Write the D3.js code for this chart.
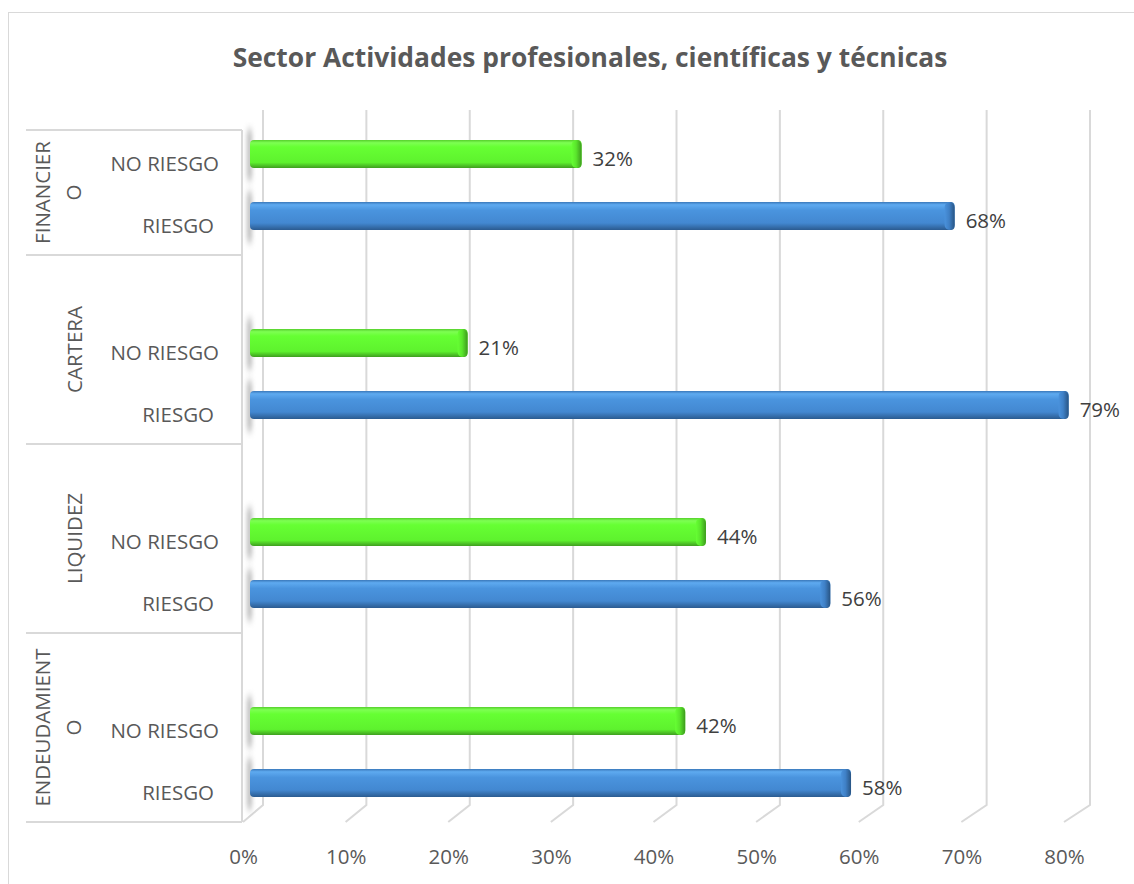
<!DOCTYPE html>
<html>
<head>
<meta charset="utf-8">
<script src="https://cdn.jsdelivr.net/npm/d3@7"></script>
<style>
  html, body { margin: 0; padding: 0; background: #fff; }
  text { font-family: "Open Sans", "Noto Sans", sans-serif; }
</style>
</head>
<body>
<div id="chart"></div>
<script>
const FRAME_WIDTH = 1134;
const FRAME_HEIGHT = 884;

// data
const TITLE = "Sector Actividades profesionales, científicas y técnicas";
const GROUPS = ["FINANCIERO", "CARTERA", "LIQUIDEZ", "ENDEUDAMIENTO"];
const GROUP_LINES = [["FINANCIER", "O"], ["CARTERA"], ["LIQUIDEZ"], ["ENDEUDAMIENT", "O"]];
const SUBS = ["NO RIESGO", "RIESGO"];
const NO_RIESGO = [0.32, 0.21, 0.44, 0.42];
const RIESGO = [0.68, 0.79, 0.56, 0.58];
const TICKS = [0, 0.1, 0.2, 0.3, 0.4, 0.5, 0.6, 0.7, 0.8];

const TEXT_COLOR = "#595959";
const GRID_COLOR = "#d9d9d9";
const LABEL_SIZE = "20.5px";

const BAR_H = 28;
const GRID_TOP = 110;
const FLOOR_BACK = 805;
const FLOOR_FRONT = 822;
const TABLE_TOP = 130;
const TABLE_LEFT = 26;
const TABLE_RIGHT = 242;

// bars sit in the middle of the 3d depth, grid on the back wall, labels on the front edge
const X_BAR = d3.scaleLinear().domain([0, 0.8]).range([250, 1079]);
const X_BACK = d3.scaleLinear().domain([0, 0.8]).range([263, 1090]);
const X_FRONT = d3.scaleLinear().domain([0, 0.8]).range([243, 1064]);

const Y_GROUP = d3.scaleBand().domain(GROUPS).range([66, FLOOR_FRONT]);
const Y_SUB = d3.scalePoint().domain(SUBS).range([88, 150]);

const svg = d3.select("#chart").append("svg")
    .attr("width", FRAME_WIDTH)
    .attr("height", FRAME_HEIGHT);

const defs = svg.append("defs");

function vGrad(id, stops) {
  const g = defs.append("linearGradient").attr("id", id)
      .attr("x1", 0).attr("y1", 0).attr("x2", 0).attr("y2", 1);
  stops.forEach(s => g.append("stop").attr("offset", s[0]).attr("stop-color", s[1]));
}
function hGrad(id, stops) {
  const g = defs.append("linearGradient").attr("id", id)
      .attr("x1", 0).attr("y1", 0).attr("x2", 1).attr("y2", 0);
  stops.forEach(s => g.append("stop").attr("offset", s[0]).attr("stop-color", s[1]));
}

vGrad("green", [["0%", "#56cf2c"], ["10%", "#7dff52"], ["25%", "#66ff33"], ["80%", "#5ef22e"], ["100%", "#3f9e1f"]]);
vGrad("blue", [["0%", "#3a78ba"], ["10%", "#5eaaf0"], ["30%", "#4a94de"], ["75%", "#4388d1"], ["100%", "#2b5b90"]]);
hGrad("greenCap", [["0%", "#66ff33"], ["45%", "#5ae52c"], ["100%", "#3d9a1d"]]);
hGrad("blueCap", [["0%", "#4a92dc"], ["45%", "#3f80c6"], ["100%", "#285483"]]);

defs.append("filter").attr("id", "blur")
    .attr("x", "-300%").attr("y", "-50%").attr("width", "700%").attr("height", "200%")
  .append("feGaussianBlur").attr("stdDeviation", "2.2 4");

// chart border
svg.append("rect")
    .attr("x", 8.5).attr("y", 12.5)
    .attr("width", FRAME_WIDTH + 20).attr("height", FRAME_HEIGHT + 20)
    .attr("fill", "none").attr("stroke", GRID_COLOR);

// title
svg.append("text")
    .attr("x", 590).attr("y", 57)
    .attr("text-anchor", "middle").attr("dominant-baseline", "central")
    .attr("font-size", "26.4px").attr("font-weight", "bold")
    .attr("fill", TEXT_COLOR)
    .text(TITLE);

// gridlines: back wall vertical, then down the floor to the front edge
svg.append("g").selectAll("path")
    .data(TICKS)
    .enter()
    .append("path")
      .attr("d", d => "M" + X_BACK(d) + "," + GRID_TOP + "V" + FLOOR_BACK + "L" + X_FRONT(d) + "," + FLOOR_FRONT)
      .attr("fill", "none")
      .attr("stroke", GRID_COLOR)
      .attr("stroke-width", 2);

// category table
const table = svg.append("g").attr("stroke", GRID_COLOR).attr("stroke-width", 2);
table.append("line")
    .attr("x1", TABLE_RIGHT).attr("x2", TABLE_RIGHT)
    .attr("y1", TABLE_TOP).attr("y2", FLOOR_FRONT);
const bounds = [TABLE_TOP].concat(GROUPS.map(g => Y_GROUP(g) + Y_GROUP.bandwidth()));
table.selectAll(".hl")
    .data(bounds)
    .enter()
    .append("line")
      .attr("x1", TABLE_LEFT).attr("x2", TABLE_RIGHT)
      .attr("y1", d => d).attr("y2", d => d);

// group labels (rotated, wrapped)
GROUPS.forEach((g, i) => {
  const top = Math.max(Y_GROUP(g), TABLE_TOP);
  const cy = (top + Y_GROUP(g) + Y_GROUP.bandwidth()) / 2;
  const lines = GROUP_LINES[i];
  const xs = lines.length === 1 ? [74] : [42, 73];
  lines.forEach((ln, j) => {
    svg.append("text")
        .attr("transform", "translate(" + xs[j] + "," + cy + ") rotate(-90)")
        .attr("text-anchor", "middle").attr("dominant-baseline", "central")
        .attr("font-size", LABEL_SIZE).attr("fill", TEXT_COLOR)
        .text(ln);
  });
});

// bar rows
const rows = [];
GROUPS.forEach((g, i) => {
  rows.push({group: g, sub: "NO RIESGO", value: NO_RIESGO[i], fill: "green"});
  rows.push({group: g, sub: "RIESGO", value: RIESGO[i], fill: "blue"});
});
const yc = d => Y_GROUP(d.group) + Y_SUB(d.sub);

// sub labels
svg.append("g").selectAll("text")
    .data(rows)
    .enter()
    .append("text")
      .attr("x", d => d.sub === "NO RIESGO" ? 219 : 214)
      .attr("y", d => yc(d) + 9)
      .attr("text-anchor", "end").attr("dominant-baseline", "central")
      .attr("font-size", LABEL_SIZE).attr("fill", TEXT_COLOR)
      .text(d => d.sub);

// soft shadow where each bar meets the wall
svg.append("g").selectAll("rect")
    .data(rows)
    .enter()
    .append("rect")
      .attr("x", X_BAR(0) - 3).attr("width", 5)
      .attr("y", d => yc(d) - BAR_H / 2 - 10)
      .attr("height", BAR_H + 22)
      .attr("fill", "#7a7a7a").attr("opacity", 0.5)
      .attr("filter", "url(#blur)");

// bars
const bars = svg.append("g").selectAll("g")
    .data(rows)
    .enter()
    .append("g");

bars.append("rect")
    .attr("x", X_BAR(0))
    .attr("y", d => yc(d) - BAR_H / 2)
    .attr("width", d => X_BAR(d.value) - X_BAR(0))
    .attr("height", BAR_H)
    .attr("rx", 4)
    .attr("fill", d => "url(#" + d.fill + ")");

bars.append("rect")
    .attr("x", d => X_BAR(d.value) - 10)
    .attr("y", d => yc(d) - BAR_H / 2)
    .attr("width", 10)
    .attr("height", BAR_H)
    .attr("rx", 5)
    .attr("fill", d => "url(#" + d.fill + "Cap)");

// data labels
bars.append("text")
    .attr("x", d => X_BAR(d.value) + 11)
    .attr("y", d => yc(d) + 4)
    .attr("dominant-baseline", "central")
    .attr("font-size", LABEL_SIZE).attr("fill", "#404040")
    .text(d => d3.format(".0%")(d.value));

// x axis labels along the front edge
const xAxis = svg.append("g")
    .attr("transform", "translate(0," + 857 + ")")
    .call(d3.axisBottom(X_FRONT).tickValues(TICKS).tickFormat(d3.format(".0%")).tickSize(0));
xAxis.select(".domain").remove();
xAxis.selectAll("text")
    .attr("y", 0).attr("dy", "0.35em")
    .attr("font-size", LABEL_SIZE)
    .attr("font-family", "'Open Sans', 'Noto Sans', sans-serif")
    .attr("fill", TEXT_COLOR);
</script>
</body>
</html>
